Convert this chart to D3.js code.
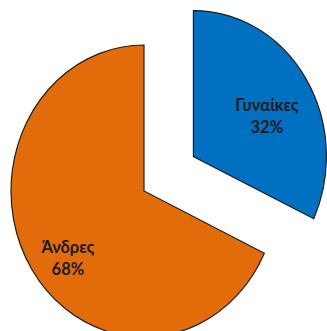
<!DOCTYPE html>
<html>
<head>
<meta charset="utf-8">
<script src="https://cdn.jsdelivr.net/npm/d3@7"></script>
<style>
  body { margin: 0; background: #fff; }
  svg { display: block; }
</style>
</head>
<body>
<svg width="327" height="331"></svg>
<script>
// data
var categories = ["Γυναίκες", "Άνδρες"];
var values = [32, 68];
var colors = ["#0070C0", "#E36C0A"];
var explode = [0.44, 0];       // fraction of radius each slice is pulled out
var labelPos = [0.62, 0.73];   // label distance as fraction of radius
var labelTurn = [5.4, -6];     // label angle nudge from slice middle, degrees

var cx = 144, cy = 191, ry = 146, rx = 133;

var data = categories.map(function (c, i) { return { name: c, value: values[i], i: i }; });
var total = d3.sum(values);

var pie = d3.pie().sort(null).value(function (d) { return d.value; });
var arc = d3.arc().innerRadius(0).outerRadius(ry);

var svg = d3.select("svg");
var g = svg.append("g").attr("transform", "translate(" + cx + "," + cy + ") scale(" + (rx / ry) + ",1)");

var slices = g.selectAll("g.slice").data(pie(data)).enter().append("g").attr("class", "slice")
    .attr("transform", function (d) {
        var a = (d.startAngle + d.endAngle) / 2;
        var off = explode[d.data.i] * ry;
        return "translate(" + (Math.sin(a) * off) + "," + (-Math.cos(a) * off) + ")";
    });

slices.append("path")
    .attr("d", arc)
    .style("fill", function (d) { return colors[d.data.i]; })
    .style("stroke", "#1e1e1e")
    .style("stroke-width", 1.2)
    .attr("vector-effect", "non-scaling-stroke");

var lab = slices.append("text")
    .attr("transform", function (d) {
        var a = (d.startAngle + d.endAngle) / 2 + labelTurn[d.data.i] * Math.PI / 180;
        var r = labelPos[d.data.i] * ry;
        return "translate(" + (Math.sin(a) * r) + "," + (-Math.cos(a) * r) + ") scale(" + (ry / rx) + ",1)";
    })
    .attr("text-anchor", "middle")
    .style("font-family", "Lato, sans-serif")
    .style("font-weight", "bold")
    .style("font-size", "16.5px")
    .style("fill", "#1a1a1a");

lab.append("tspan").attr("x", 0).attr("y", -4).text(function (d) { return d.data.name; });
lab.append("tspan").attr("x", 0).attr("y", 18).text(function (d) { return Math.round(d.data.value / total * 100) + "%"; });
</script>
</body>
</html>
